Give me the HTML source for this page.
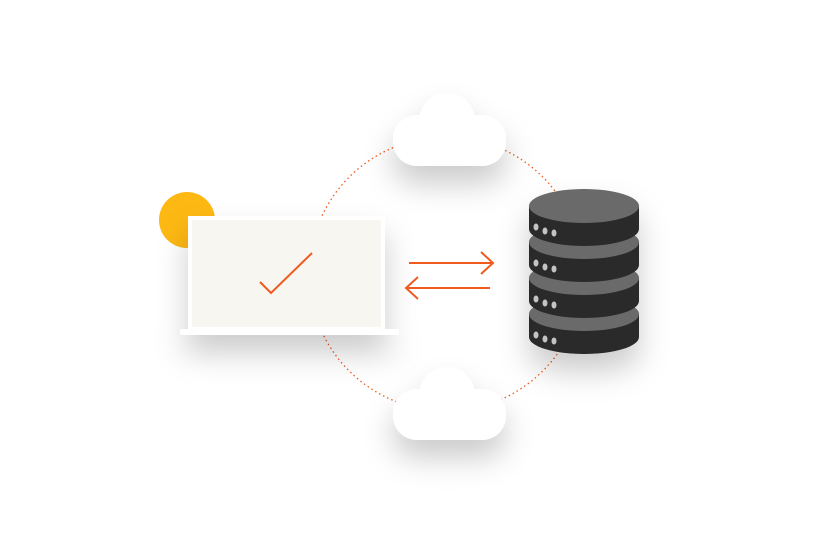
<!DOCTYPE html>
<html><head><style>html,body{margin:0;padding:0;background:#fff}svg{display:block}</style></head>
<body>
<svg width="830" height="550" viewBox="0 0 830 550" xmlns="http://www.w3.org/2000/svg">
<defs>
<filter id="sh" x="-50%" y="-50%" width="200%" height="250%">
<feDropShadow dx="0" dy="18" stdDeviation="15" flood-color="#000" flood-opacity="0.2"/>
</filter>
</defs>
<circle cx="446" cy="274" r="137" fill="none" stroke="#f05a1e" stroke-width="1.3" stroke-dasharray="1.5 3"/>
<!-- clouds -->
<g filter="url(#sh)" fill="#fff">
<g><circle cx="447" cy="121" r="28"/><rect x="393" y="115" width="113" height="51" rx="24"/></g>
<g><circle cx="447" cy="395" r="28"/><rect x="393" y="389" width="113" height="51" rx="24"/></g>
</g>
<!-- sun -->
<circle cx="187" cy="220" r="28" fill="#fdb813"/>
<!-- laptop -->
<g filter="url(#sh)">
<rect x="188" y="216" width="197" height="116" fill="#fff"/>
<rect x="180" y="329" width="219" height="6" rx="1" fill="#fff"/>
</g>
<rect x="192" y="220" width="189" height="107" fill="#f8f6f0"/>
<polyline points="260,282 271,293 312,253" fill="none" stroke="#f05a1e" stroke-width="2"/>
<!-- arrows -->
<g fill="none" stroke="#f05a1e" stroke-width="2">
<line x1="409" y1="263" x2="492" y2="263"/><polyline points="481,252 493,263 481,274"/>
<line x1="407" y1="288" x2="490" y2="288"/><polyline points="418,277 406,288 418,299"/>
</g>
<!-- database -->
<g filter="url(#sh)">
<g>
<path d="M529 314 v23 a55 17 0 0 0 110 0 v-23 z" fill="#2b2b2b"/><ellipse cx="584" cy="314" rx="55" ry="17" fill="#6b6b6b"/>
</g>
<g>
<path d="M529 278 v23 a55 17 0 0 0 110 0 v-23 z" fill="#2b2b2b"/><ellipse cx="584" cy="278" rx="55" ry="17" fill="#6b6b6b"/>
</g>
<g>
<path d="M529 242 v23 a55 17 0 0 0 110 0 v-23 z" fill="#2b2b2b"/><ellipse cx="584" cy="242" rx="55" ry="17" fill="#6b6b6b"/>
</g>
<g>
<path d="M529 206 v23 a55 17 0 0 0 110 0 v-23 z" fill="#2b2b2b"/><ellipse cx="584" cy="206" rx="55" ry="17" fill="#6b6b6b"/>
</g>
</g>
<g fill="#c4c4c4">
<ellipse cx="536" cy="227" rx="2.5" ry="3.5"/><ellipse cx="545" cy="231" rx="2.5" ry="3.5"/><ellipse cx="554" cy="233" rx="2.5" ry="3.5"/>
<ellipse cx="536" cy="263" rx="2.5" ry="3.5"/><ellipse cx="545" cy="267" rx="2.5" ry="3.5"/><ellipse cx="554" cy="269" rx="2.5" ry="3.5"/>
<ellipse cx="536" cy="299" rx="2.5" ry="3.5"/><ellipse cx="545" cy="303" rx="2.5" ry="3.5"/><ellipse cx="554" cy="305" rx="2.5" ry="3.5"/>
<ellipse cx="536" cy="335" rx="2.5" ry="3.5"/><ellipse cx="545" cy="339" rx="2.5" ry="3.5"/><ellipse cx="554" cy="341" rx="2.5" ry="3.5"/>
</g>
</svg>
</body></html>
